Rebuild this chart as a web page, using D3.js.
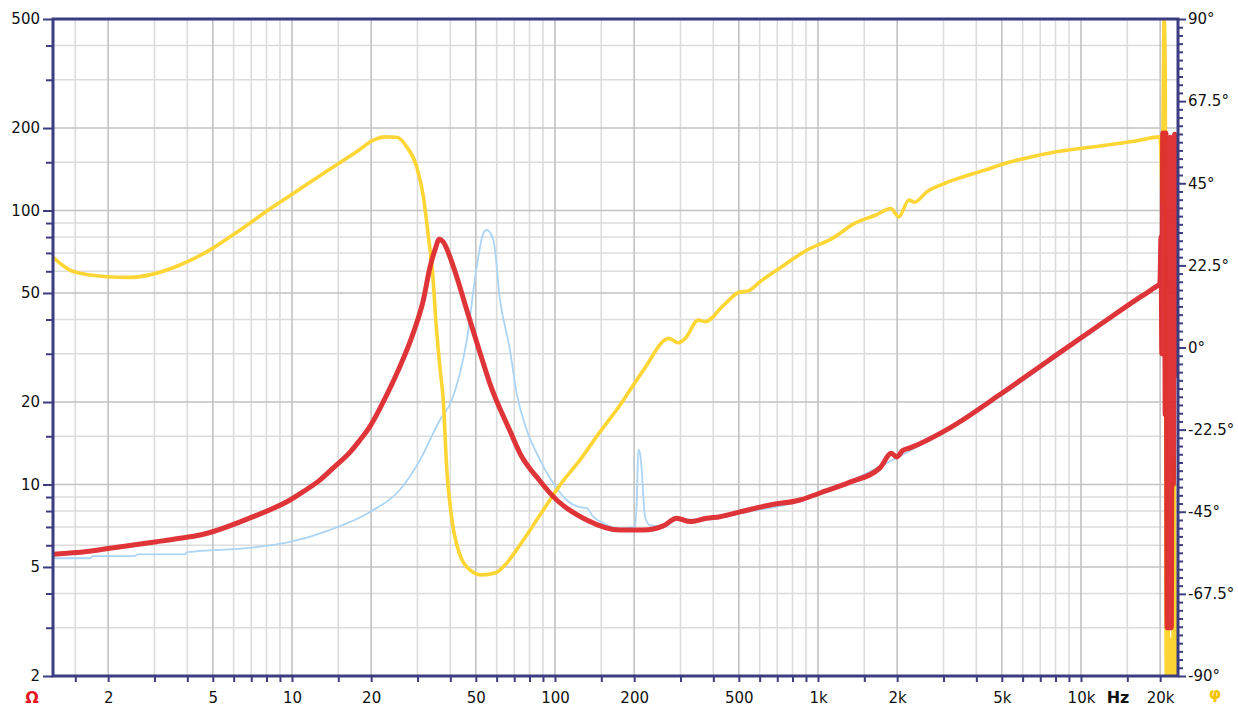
<!DOCTYPE html>
<html>
<head>
<meta charset="utf-8">
<script src="https://cdn.jsdelivr.net/npm/d3@7"></script>
<style>
body { margin: 0; background: #fff; }
text { font-family: "DejaVu Sans", Verdana, sans-serif; }
</style>
</head>
<body>
<div id="chart"></div>
<script>
// impedance magnitude (red), Hz / ohm
var impFreq = [1.234, 1.66, 2.03, 2.49, 3.06, 3.75, 4.47, 6.92, 9.83, 11, 12.8, 14.5, 16.6, 18, 19.8, 22.9, 25.7, 28.9, 31.6, 33.5, 35, 36.3, 37.5,
    41.1, 46.2, 51.9, 56.6, 67.4, 73.6, 87.7, 98.5, 132, 176.6, 216.6, 258, 290, 326, 377, 424, 505, 657, 854, 1018,
    1323, 1721, 1900, 1990, 2100, 2237, 3176, 4921, 7622, 11800, 17000, 19000, 19950,
    20150, 20300, 20450, 20600, 20750, 20900, 21050, 21250, 21450, 21650, 21850, 22050, 22250, 22450, 22700, 22950, 23200, 23380];
var impMag = [5.56, 5.69, 5.85, 6.01, 6.18, 6.36, 6.54, 7.55, 8.78, 9.4, 10.4, 11.6, 13.1, 14.4, 16.3, 21.2, 26.9, 35.7, 47.2, 62.3, 72, 78.5, 77,
    62.3, 43.3, 30.2, 23.3, 15.7, 13.0, 10.3, 9.03, 7.42, 6.82, 6.82, 7.06, 7.53, 7.32, 7.53, 7.63, 7.94, 8.42, 8.78, 9.31,
    10.2, 11.5, 13.0, 12.6, 13.3, 13.6, 16.1, 21.3, 28.6, 38.3, 48.7, 52.2, 54.2,
    80, 30, 192, 40, 192, 18, 192, 3, 180, 3, 185, 3, 150, 10, 190, 25, 150, 60];

// previous impedance measurement (light blue)
var refFreq = [1.234, 1.71, 1.75, 2.5, 2.6, 3.9, 4.0, 6.92, 9.83, 13.9, 19.8, 25.7, 30.7, 36.5, 40.5, 46.2, 50.4, 53.4, 55.0,
    58.3, 61.8, 67.4, 71.5, 78.1, 87.7, 98.5, 110.8, 124.5, 132, 139.8, 152.6, 176.6, 201.5, 204.5, 207.4, 210.5, 213.6,
    219.9, 229.8, 260, 290, 377, 505, 854, 1990, 4921, 11800, 17000, 19000, 19950, 20500, 20800, 21100, 21500];
var refMag = [5.38, 5.38, 5.48, 5.48, 5.56, 5.56, 5.66, 5.87, 6.17, 6.82, 7.94, 9.55, 12.3, 17.2, 20.3, 33.7, 62.3, 82.6, 84.9,
    78.0, 47.2, 31.0, 21.5, 15.8, 12.3, 10.1, 8.78, 8.26, 8.2, 7.63, 7.22, 6.92, 7.0, 8.56, 13.4, 13.0, 11.3,
    7.63, 7.1, 7.0, 7.45, 7.45, 7.85, 8.7, 12.5, 21.0, 38.0, 48.4, 52.0, 53.5, 140, 260, 100, 50];

// phase (yellow), Hz / degrees
var phaseFreq = [1.234, 1.474, 1.974, 2.42, 2.88, 3.75, 4.74, 6.35, 8.49, 10.1, 13.15, 17.6, 20.4, 22.6, 25.0, 27.3, 29.8,
    31.6, 33.0, 34.5, 35.0, 36.5, 37.6, 38.8, 40.6, 43.5, 47.5, 52.8, 59.1, 64.5, 73.6, 87.7, 104.5, 124.5, 148, 176.6,
    217, 271, 294, 313, 350, 373, 438, 497, 547, 602, 728, 908, 1135, 1376, 1661, 1891, 2029, 2219, 2327, 2597, 3039,
    3574, 4314, 4921, 7622, 11800, 16750, 19950,
    20200, 20350, 20500, 20700, 20900, 21100, 21400, 21700, 22000, 22300, 22600, 22900];
var phaseDeg = [24.7, 20.8, 19.4, 19.2, 19.9, 22.6, 26.2, 32.2, 38.6, 42.2, 47.7, 53.6, 56.8, 57.7, 57.6, 55.0, 49.5,
    41.3, 30.4, 17.6, 10.3, -5.3, -14.4, -33.6, -47.3, -56.8, -60.9, -62.3, -61.8, -59.6, -54.1, -45.9, -37.7, -30.8, -23.2, -15.8,
    -6.2, 2.5, 1.3, 2.5, 7.5, 7.1, 11.6, 15.0, 15.6, 18.0, 22.1, 26.7, 29.9, 34.0, 36.3, 38.1, 35.8, 40.4, 39.8, 42.7, 45.0,
    46.8, 48.6, 50.0, 53.3, 55.2, 56.8, 57.7,
    50, 40, 62, 90, 75, -90, -75, -90, -80, -90, -30, -90];

// ticks
var freqTicks = [2, 5, 10, 20, 50, 100, 200, 500, 1000, 2000, 5000, 10000, 20000];
var freqLabels = ['2', '5', '10', '20', '50', '100', '200', '500', '1k', '2k', '5k', '10k', '20k'];
var minorMant = [1.5, 3, 4, 6, 7, 8, 9];
var impTicks = [2, 5, 10, 20, 50, 100, 200, 500];
var phaseTicks = [-90, -67.5, -45, -22.5, 0, 22.5, 45, 67.5, 90];

var W = 1238, H = 706;
var pl = 53, pr = 1178, pt = 19, pb = 676;
var navy = '#3c3c80';

var svg = d3.select('#chart').append('svg').attr('width', W).attr('height', H);

var x = d3.scaleLog().domain([1.234, 23380]).range([pl, pr]);
var yZ = d3.scaleLog().domain([2, 500]).range([pb, pt]);
var yP = d3.scaleLinear().domain([-90, 90]).range([pb, pt]);

// minor values from mantissas
var fMinor = [], zMinor = [];
[1, 10, 100, 1000, 10000].forEach(function (d) {
    minorMant.forEach(function (m) {
        var v = m * d;
        if (v > 1.234 && v < 23380) fMinor.push(v);
        if (v > 2 && v < 500) zMinor.push(v);
    });
});
var pMinor = d3.range(-90, 90.01, 2.25).filter(function (d) { return phaseTicks.indexOf(d) < 0; });

// grid
var grid = svg.append('g');
grid.selectAll('.vmin').data(fMinor).enter().append('line')
    .attr('x1', d => x(d)).attr('x2', d => x(d)).attr('y1', pt).attr('y2', pb)
    .attr('stroke', '#dcdcdc').attr('stroke-width', 1.6);
grid.selectAll('.hmin').data(zMinor).enter().append('line')
    .attr('x1', pl).attr('x2', pr).attr('y1', d => yZ(d)).attr('y2', d => yZ(d))
    .attr('stroke', '#dcdcdc').attr('stroke-width', 1.6);
grid.selectAll('.vmaj').data(freqTicks).enter().append('line')
    .attr('x1', d => x(d)).attr('x2', d => x(d)).attr('y1', pt).attr('y2', pb)
    .attr('stroke', '#c2c2c2').attr('stroke-width', 1.6);
grid.selectAll('.hmaj').data(impTicks).enter().append('line')
    .attr('x1', pl).attr('x2', pr).attr('y1', d => yZ(d)).attr('y2', d => yZ(d))
    .attr('stroke', '#c2c2c2').attr('stroke-width', 1.6);

// curves
svg.append('clipPath').attr('id', 'clip').append('rect')
    .attr('x', pl).attr('y', pt).attr('width', pr - pl).attr('height', pb - pt);
var plot = svg.append('g').attr('clip-path', 'url(#clip)');

function zip(a, b) { return a.map(function (d, i) { return [d, b[i]]; }); }

var lineZ = d3.line().curve(d3.curveMonotoneX).x(d => x(d[0])).y(d => yZ(d[1]));
var lineP = d3.line().curve(d3.curveMonotoneX).x(d => x(d[0])).y(d => yP(d[1]));

plot.append('path').datum(zip(refFreq, refMag)).attr('d', lineZ)
    .attr('fill', 'none').attr('stroke', '#abd4f5').attr('stroke-width', 1.8).attr('stroke-linejoin', 'round');
plot.append('path').datum(zip(phaseFreq, phaseDeg)).attr('d', lineP)
    .attr('fill', 'none').attr('stroke', '#fdd535').attr('stroke-width', 3.6).attr('stroke-linejoin', 'round');
plot.append('path').datum(zip(impFreq, impMag)).attr('d', lineZ)
    .attr('fill', 'none').attr('stroke', '#dd2a2e').attr('stroke-opacity', 0.95).attr('stroke-width', 5).attr('stroke-linejoin', 'round');

// axes
function styleAxis(g) {
    g.select('.domain').remove();
    g.selectAll('.tick line').attr('stroke', navy).attr('stroke-width', 2);
    g.selectAll('.tick text').attr('fill', '#111').style('font-size', '15px');
}
svg.append('g').attr('transform', 'translate(' + pl + ',0)')
    .call(d3.axisLeft(yZ).tickValues(zMinor).tickSize(7).tickFormat('')).call(styleAxis);
svg.append('g').attr('transform', 'translate(' + pl + ',0)')
    .call(d3.axisLeft(yZ).tickValues(impTicks).tickSize(10).tickPadding(3).tickFormat(d3.format('d'))).call(styleAxis);

svg.append('g').attr('transform', 'translate(' + pr + ',0)')
    .call(d3.axisRight(yP).tickValues(pMinor).tickSize(5).tickFormat('')).call(styleAxis);
svg.append('g').attr('transform', 'translate(' + pr + ',0)')
    .call(d3.axisRight(yP).tickValues(phaseTicks).tickSize(8).tickPadding(2).tickFormat(d => d + '°')).call(styleAxis);

svg.append('g').attr('transform', 'translate(0,' + pb + ')')
    .call(d3.axisBottom(x).tickValues(fMinor).tickSize(6).tickFormat('')).call(styleAxis);
svg.append('g').attr('transform', 'translate(0,' + pb + ')')
    .call(d3.axisBottom(x).tickValues(freqTicks).tickSize(6).tickPadding(10)
        .tickFormat(function (d, i) { return freqLabels[i]; })).call(styleAxis);

// frame
svg.append('rect').attr('x', pl).attr('y', pt).attr('width', pr - pl).attr('height', pb - pt)
    .attr('fill', 'none').attr('stroke', navy).attr('stroke-width', 3);

// unit labels
svg.append('text').attr('x', 32).attr('y', 703).attr('text-anchor', 'middle')
    .attr('fill', '#e8141e').style('font-size', '16px').style('font-weight', 'bold').text('Ω');
svg.append('text').attr('x', 1118).attr('y', 703).attr('text-anchor', 'middle')
    .attr('fill', '#111').style('font-size', '16px').style('font-weight', 'bold').text('Hz');
svg.append('text').attr('x', 1215).attr('y', 699).attr('text-anchor', 'middle')
    .attr('fill', '#f5c400').style('font-size', '16px').style('font-weight', 'bold').text('φ');
</script>
</body>
</html>
